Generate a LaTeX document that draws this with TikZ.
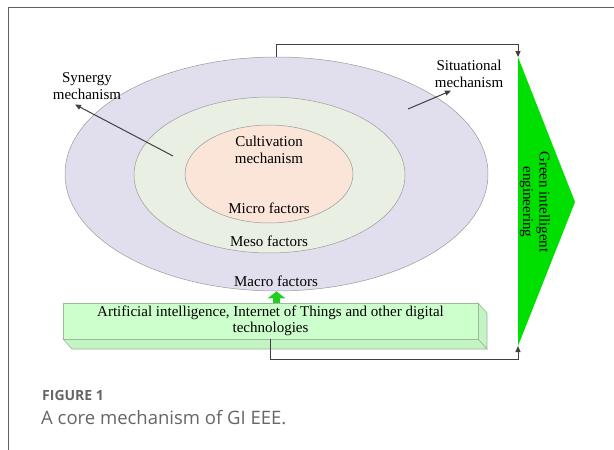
\documentclass[tikz,border=0pt]{standalone}
\usepackage{fontspec}
\setmainfont{Liberation Serif}
\newfontfamily\capfont{Open Sans}
\usetikzlibrary{shapes.geometric,arrows.meta,calc}
\definecolor{outerc}{HTML}{E1DFEE}
\definecolor{midc}{HTML}{EAEFE4}
\definecolor{innerc}{HTML}{FBE4D8}
\definecolor{edgec}{HTML}{9A9A9A}
\definecolor{connc}{HTML}{404040}
\definecolor{trigreen}{HTML}{00E000}
\definecolor{boxc}{HTML}{CCFFCC}
\definecolor{boxside}{HTML}{C4F4C4}
\definecolor{boxedge}{HTML}{99BB99}
\definecolor{blockgreen}{HTML}{22CC22}
\definecolor{capgray}{HTML}{666666}
\definecolor{framec}{HTML}{606060}
\tikzset{
  ell/.style={ellipse, draw=edgec, line width=0.5pt, inner sep=0pt},
  lbl/.style={font=\fontsize{15}{16.5}\selectfont, align=center, inner sep=0pt},
  conn/.style={draw=connc, line width=1pt, -{Triangle[length=6pt,width=5pt]}},
}
\begin{document}
\begin{tikzpicture}[x=1pt,y=-1pt]
\useasboundingbox (0,0) rectangle (614,450);
\fill[white] (0,0) rectangle (614,450);
% frame
\draw[framec, line width=0.9pt] (8,450) -- (8,7.5) -- (614,7.5);
% ellipses
\node[ell, fill=outerc, minimum width=423pt, minimum height=234pt] (outer) at (276.5,174) {};
\node[ell, fill=midc, minimum width=271pt, minimum height=156pt] (mid) at (269.5,175) {};
\node[ell, fill=innerc, minimum width=168pt, minimum height=98pt] (inner) at (269,174) {};
% labels inside
\node[lbl] (cult) at (269,150) {Cultivation\\mechanism};
\node[lbl] (micro) at (269,208) {Micro factors};
\node[lbl] (meso) at (269,241) {Meso factors};
\node[lbl] (macro) at (276,281) {Macro factors};
% side labels
\node[lbl] (syn) at (87,86) {Synergy\\mechanism};
\node[lbl] (sit) at (469,74) {Situational\\mechanism};
\coordinate (synstart) at (173,156);
\coordinate (sitstart) at (408,109);
\draw[conn] (synstart) -- ($(syn.south)+(-12,5)$);
\draw[conn] (sitstart) -- ($(sit.south)+(-18,3)$);
% green triangle
\coordinate (tritop) at (518,57);
\coordinate (tribot) at (518,346);
\coordinate (tritip) at (575,202);
\fill[trigreen] (tritop) -- (tritip) -- (tribot) -- cycle;
\node[lbl, rotate=-90] (gie) at (535,202) {Green intelligent\\engineering};
% 3D box
\fill[boxside, draw=boxedge, line width=0.6pt] (478,303) -- (487,313) -- (487,349) -- (478,339) -- cycle;
\fill[boxside, draw=boxedge, line width=0.6pt] (63,339) -- (478,339) -- (487,349) -- (72,349) -- cycle;
\node[draw=boxedge, fill=boxc, line width=0.6pt, minimum width=415pt, minimum height=36pt, inner sep=0pt] (box) at (270.5,321) {};
\node[lbl] (boxtxt) at (270.5,321) {Artificial intelligence, Internet of Things and other digital\\technologies};
% block arrow
\draw[blockgreen, line width=7pt, -{Triangle[width=17pt,length=7pt]}] (box.north -| outer.south) -- (outer.south);
% connectors
\draw[conn] (outer.north) -- ++(0,-12) -| (tritop);
\coordinate (bc) at (518,359);
\draw[conn] (box.south) |- (bc) -- (tribot);
% caption
\node[anchor=base west, inner sep=0pt, text=capgray, font=\capfont\bfseries\fontsize{14}{16}\selectfont] (fig) at (42,400) {FIGURE 1};
\node[anchor=base west, inner sep=0pt, text=capgray, font=\capfont\fontsize{18.5}{22}\selectfont] (cap) at (41,424) {A core mechanism of GI EEE.};
\end{tikzpicture}
\end{document}
